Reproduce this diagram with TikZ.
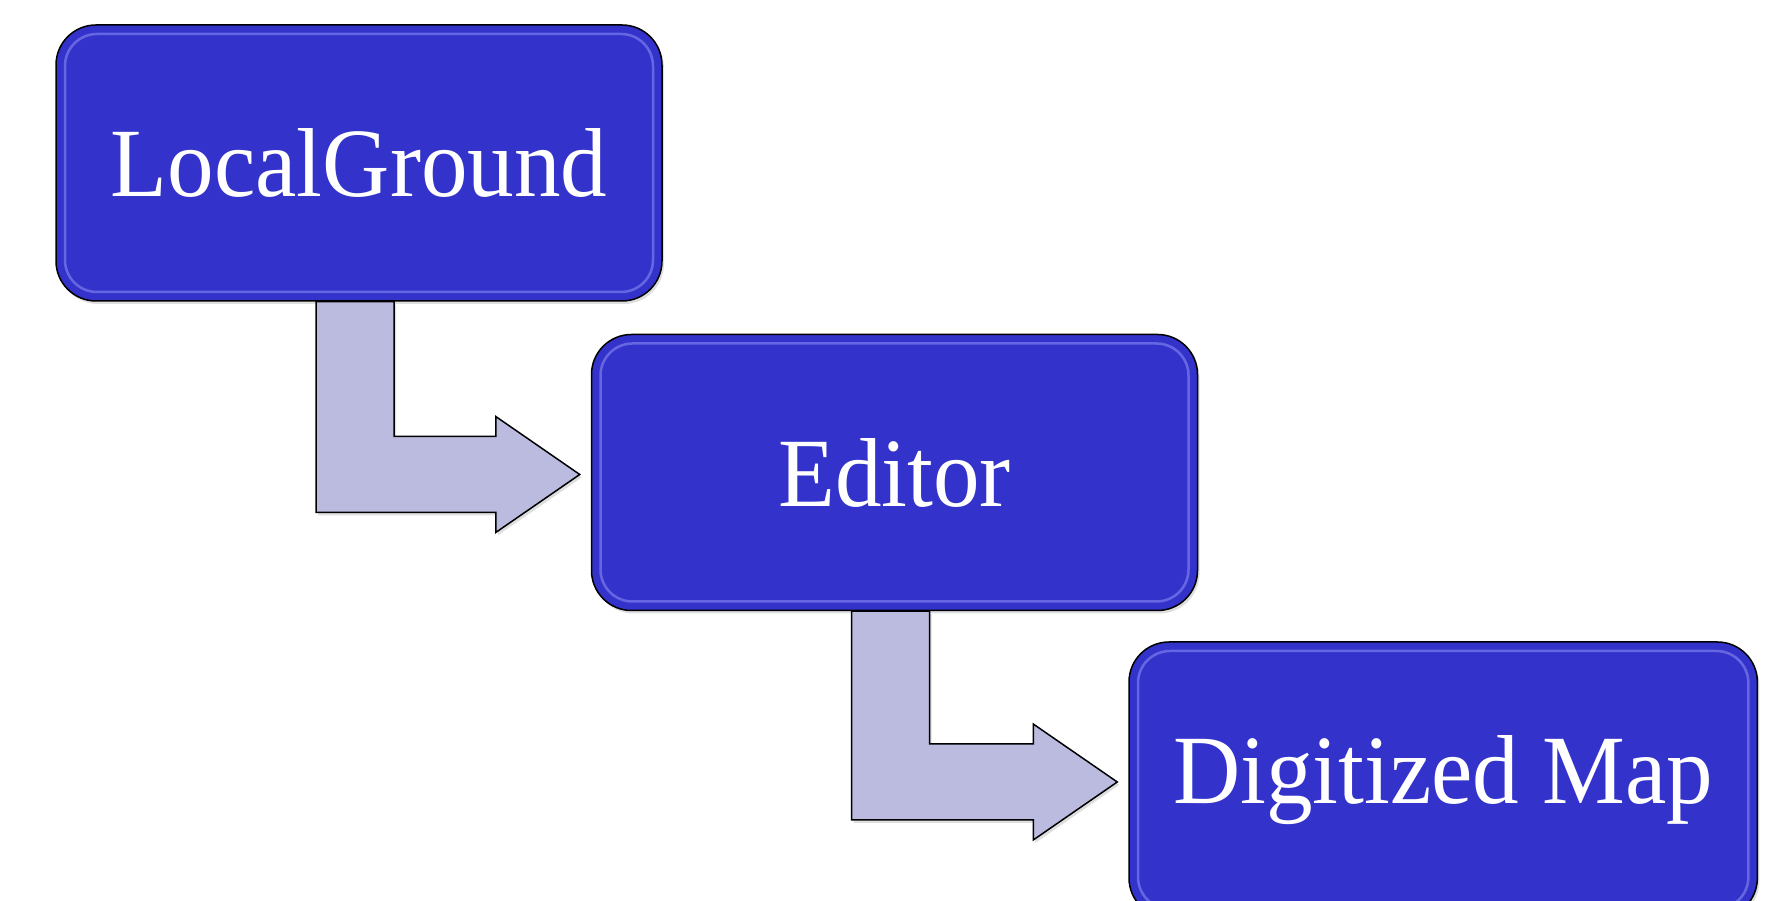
\documentclass[tikz,border=0pt]{standalone}
\usepackage{fontspec}
\setmainfont{Liberation Serif}[FakeStretch=0.95]
\usetikzlibrary{positioning, calc, shadows}

\definecolor{boxblue}{RGB}{51,51,204}
\definecolor{glossblue}{RGB}{125,125,238}
\definecolor{arrowlav}{RGB}{187,187,224}

% bent arrow from the bottom of one box to the left side of the next
\newcommand{\bentarrow}[2]{%
  \draw[bent arrow] let \p1=(#1.south), \p2=(#2.west) in
    (\x1-43pt,\y1) -- (\x1+35pt,\y1) -- (\x1+35pt,\y2+36pt)
    -- (\x2-95pt,\y2+36pt) -- (\x2-95pt,\y2+56pt) -- (\x2-11pt,\y2-2pt)
    -- (\x2-95pt,\y2-60pt) -- (\x2-95pt,\y2-40pt) -- (\x1-43pt,\y2-40pt) -- cycle;
}

\begin{document}
\begin{tikzpicture}[
  x=1pt, y=1pt,
  stage/.style={rectangle, rounded corners=40pt, draw=black, line width=1.5pt,
    fill=boxblue, text=white, minimum width=606pt, minimum height=276pt,
    inner xsep=44pt, font=\fontsize{98pt}{104pt}\selectfont,
    drop shadow={opacity=0.25, shadow xshift=2pt, shadow yshift=-3pt},
    path picture={\draw[glossblue, line width=2.5pt, opacity=0.7, rounded corners=32pt]
      ([shift={(9pt,-9pt)}]path picture bounding box.north west) rectangle
      ([shift={(-9pt,9pt)}]path picture bounding box.south east);}},
  bent arrow/.style={draw=black, line width=1.5pt, fill=arrowlav, line join=miter,
    drop shadow={opacity=0.25, shadow xshift=2pt, shadow yshift=-3pt}}
]
\useasboundingbox (0,0) rectangle (1770,901);

\node[stage] (lg) at (359,738) {LocalGround};
\node[stage, below right=32pt and -72pt of lg] (ed) {Editor};
\node[stage, below right=30pt and -70pt of ed] (dm) {Digitized Map};

\bentarrow{lg}{ed}
\bentarrow{ed}{dm}

\end{tikzpicture}
\end{document}
